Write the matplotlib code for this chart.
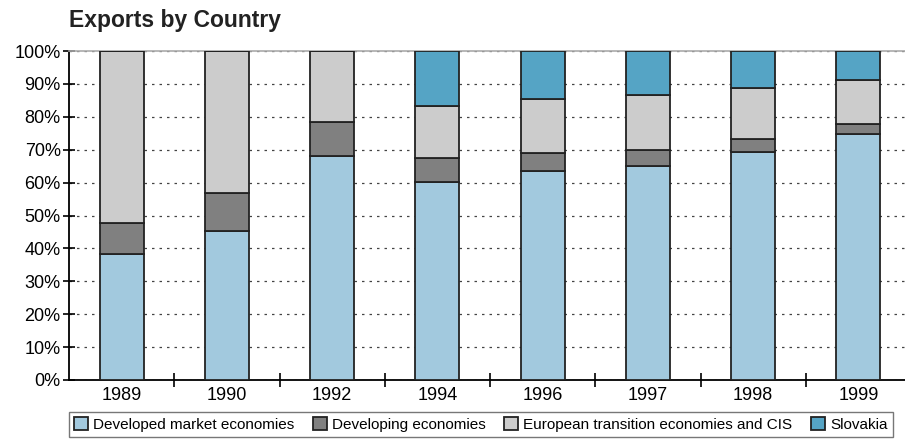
import numpy as np
import matplotlib
matplotlib.use("Agg")
import matplotlib.pyplot as plt

years = ["1989", "1990", "1992", "1994", "1996", "1997", "1998", "1999"]
developed = [38.4, 45.3, 68.0, 60.1, 63.5, 65.0, 69.4, 74.9]
developing = [9.2, 11.4, 10.3, 7.4, 5.4, 4.9, 4.0, 2.9]
transition = [52.4, 43.3, 21.7, 15.8, 16.4, 16.7, 15.4, 13.4]
slovakia = [0.0, 0.0, 0.0, 16.7, 14.7, 13.4, 11.2, 8.8]

labels = ["Developed market economies", "Developing economies",
          "European transition economies and CIS", "Slovakia"]
colors = ["#a2c9de", "#808080", "#cccccc", "#55a4c5"]

plt.rcParams["font.family"] = ["Liberation Sans", "DejaVu Sans"]

fig = plt.figure(figsize=(9.05, 4.42), dpi=100)
ax = fig.add_axes([69 / 905, 1 - 380 / 442, 842 / 905, 329 / 442])

x = np.arange(len(years))
bottom = np.zeros(len(years))
handles = []
for vals, col, lab in zip([developed, developing, transition, slovakia], colors, labels):
    vals = np.array(vals)
    b = ax.bar(x, vals, 0.42, bottom=bottom, color=col, edgecolor="#222222",
               linewidth=1.3, label=lab, zorder=3)
    handles.append(b)
    bottom += vals

ax.set_xlim(-0.5, len(years) - 0.5)
ax.set_ylim(0, 100)
ax.set_yticks(np.arange(0, 101, 10))
ax.set_yticklabels([f"{v}%" for v in range(0, 101, 10)], fontsize=13)
ax.yaxis.grid(True, linestyle=(0, (2, 4)), color="#444444", linewidth=0.9, zorder=0)
ax.set_axisbelow(True)

ax.set_xticks(x)
ax.set_xticklabels(years, fontsize=13)
ax.tick_params(axis="x", length=0, pad=5)
ax.set_xticks(np.arange(0.5, len(years) - 0.5, 1), minor=True)
ax.tick_params(axis="x", which="minor", direction="inout", length=10, width=1.2)
ax.tick_params(axis="y", direction="inout", length=8, width=1.2, pad=2)

for s in ["left", "bottom"]:
    ax.spines[s].set_linewidth(1.3)
ax.spines["right"].set_visible(False)
ax.spines["top"].set_color("#aaaaaa")
ax.spines["top"].set_linewidth(1.2)

fig.text(69 / 905, 1 - 20 / 442, "Exports by Country", fontsize=16.5, fontweight="bold",
         va="center", ha="left", color="#222222")

leg = fig.legend(handles=handles, loc="upper left", bbox_to_anchor=(69 / 905, 1 - 412 / 442),
                 ncol=4, fontsize=11.0, frameon=True, fancybox=False, edgecolor="#555555",
                 handlelength=0.9, handleheight=0.9, handletextpad=0.35, columnspacing=1.2,
                 borderpad=0.35, borderaxespad=0)
leg.get_frame().set_linewidth(1.0)

fig.savefig("out.png", dpi=100)
